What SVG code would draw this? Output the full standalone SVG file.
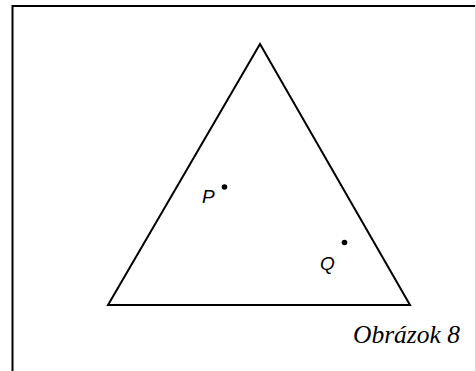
<svg xmlns="http://www.w3.org/2000/svg" width="476" height="371" viewBox="0 0 476 371">
<style>
.frame{fill:none;stroke:#000;stroke-width:2}
.tri{fill:none;stroke:#000;stroke-width:2;stroke-linejoin:miter}
.lbl{font-family:"Liberation Sans",Arial,sans-serif;font-style:italic;font-size:19px;fill:#000}
.cap{font-family:"Liberation Serif","Times New Roman",serif;font-style:italic;font-size:25.5px;fill:#000}
</style>
<rect width="476" height="371" fill="#fff"/>
<g id="frame">
<path class="frame" d="M12.5,371 V6 H475"/>
<line x1="475.5" y1="5" x2="475.5" y2="371" stroke="#d8d8d8" stroke-width="1"/>
</g>
<g id="triangle">
<polygon class="tri" points="260,44 108,305 410,305"/>
</g>
<g id="P">
<circle cx="224.5" cy="187" r="2.8" fill="#000"/>
<text class="lbl" x="202" y="203">P</text>
</g>
<g id="Q">
<circle cx="344.5" cy="242.5" r="2.8" fill="#000"/>
<text class="lbl" x="320" y="270">Q</text>
</g>
<g id="caption">
<text class="cap" x="353" y="343">Obrázok 8</text>
</g>
</svg>
